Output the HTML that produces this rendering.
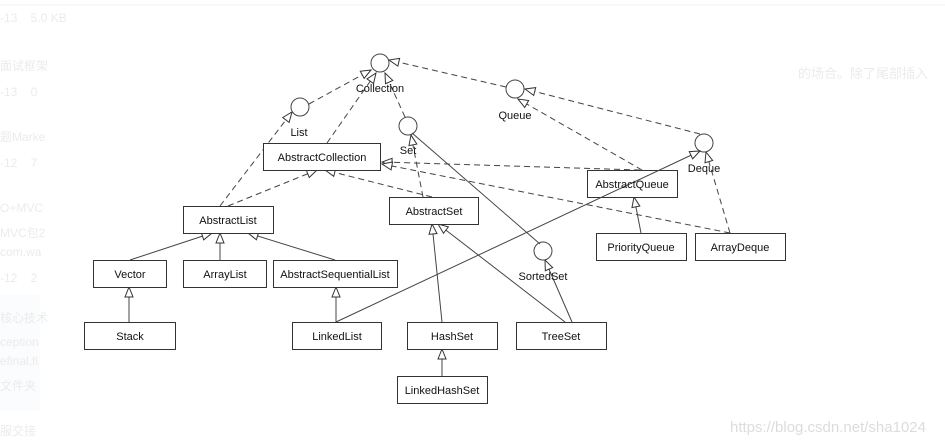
<!DOCTYPE html>
<html><head><meta charset="utf-8"><style>
html,body{margin:0;padding:0;background:#fff;}
body{width:945px;height:446px;overflow:hidden;position:relative;font-family:"Liberation Sans","Noto Sans CJK SC",sans-serif;}
svg{position:absolute;left:0;top:0;}
.bg{font-size:12px;fill:#ebebeb;}
</style></head><body>
<svg width="945" height="446" viewBox="0 0 945 446">
<defs>
<marker id="t" viewBox="0 0 12 10" refX="11" refY="5" markerWidth="12" markerHeight="10" markerUnits="userSpaceOnUse" orient="auto">
<path d="M1,1 L11,5 L1,9 Z" fill="#fff" stroke="#333" stroke-width="1"/>
</marker>
</defs>
<rect x="0" y="295" width="40" height="115" fill="#fbfcfd"/>
<g class="bg">
<text x="0" y="22">-13 &#160;&#160;&#160;5.0 KB</text>
<text x="0" y="70">面试框架</text>
<text x="0" y="96">-13 &#160;&#160;&#160;0</text>
<text x="0" y="141">题Marke</text>
<text x="0" y="167">-12 &#160;&#160;&#160;7</text>
<text x="0" y="212">O+MVC</text>
<text x="0" y="237">MVC包2</text>
<text x="0" y="256">com.wa</text>
<text x="0" y="282">-12 &#160;&#160;&#160;2</text>
<text x="0" y="322">核心技术</text>
<text x="0" y="346">ception</text>
<text x="0" y="365">efinal,fi</text>
<text x="0" y="390">文件夹</text>
<text x="0" y="435">服交接</text>
<text x="798" y="78" font-size="13">的场合。除了尾部插入</text>
<text x="730" y="432" font-size="15" fill="#dcdcdc">https://blog.csdn.net/sha1024</text>
</g>
<line x1="0" y1="5" x2="945" y2="5" stroke="#f3f3f3"/>
<g stroke="#444" stroke-width="1" fill="none">
<g stroke-dasharray="6,4">
<line x1="327" y1="143" x2="376" y2="73" marker-end="url(#t)"/>
<line x1="309" y1="104" x2="371" y2="70" marker-end="url(#t)"/>
<line x1="220" y1="206" x2="292" y2="112" marker-end="url(#t)"/>
<line x1="228" y1="206" x2="317" y2="170" marker-end="url(#t)"/>
<line x1="432" y1="197" x2="325" y2="170" marker-end="url(#t)"/>
<line x1="423" y1="197" x2="411" y2="135" marker-end="url(#t)"/>
<line x1="405" y1="117" x2="385" y2="73" marker-end="url(#t)"/>
<line x1="506" y1="87" x2="389" y2="60" marker-end="url(#t)"/>
<line x1="700" y1="134" x2="525" y2="89" marker-end="url(#t)"/>
<line x1="642" y1="170" x2="518" y2="99" marker-end="url(#t)"/>
<line x1="640" y1="170" x2="382" y2="162" marker-end="url(#t)"/>
<line x1="730" y1="233" x2="382" y2="164" marker-end="url(#t)"/>
<line x1="730" y1="233" x2="706" y2="152" marker-end="url(#t)"/>
</g>
<line x1="130" y1="260" x2="212" y2="233" marker-end="url(#t)"/>
<line x1="220" y1="260" x2="220" y2="233" marker-end="url(#t)"/>
<line x1="335" y1="260" x2="248" y2="233" marker-end="url(#t)"/>
<line x1="129" y1="322" x2="129" y2="287" marker-end="url(#t)"/>
<line x1="336" y1="322" x2="336" y2="287" marker-end="url(#t)"/>
<line x1="442" y1="322" x2="432" y2="224" marker-end="url(#t)"/>
<line x1="565" y1="322" x2="438" y2="224" marker-end="url(#t)"/>
<line x1="572" y1="322" x2="545" y2="260" marker-end="url(#t)"/>
<line x1="641" y1="233" x2="634" y2="197" marker-end="url(#t)"/>
<line x1="442" y1="376" x2="442" y2="349" marker-end="url(#t)"/>
</g>
<g stroke="#444" fill="#fff" stroke-width="1">
<circle cx="380" cy="63" r="9"/>
<circle cx="300" cy="107" r="9"/>
<circle cx="408" cy="126" r="9"/>
<circle cx="515" cy="89" r="9"/>
<circle cx="704" cy="143" r="9"/>
<circle cx="543" cy="251" r="9"/>
</g>
<g stroke="#333" fill="#fff" stroke-width="1">
<rect x="263.5" y="143.5" width="117" height="27"/>
<rect x="183.5" y="206.5" width="90" height="27"/>
<rect x="389.5" y="197.5" width="89" height="27"/>
<rect x="587.5" y="170.5" width="90" height="27"/>
<rect x="596.5" y="233.5" width="90" height="27"/>
<rect x="695.5" y="233.5" width="90" height="27"/>
<rect x="93.5" y="260.5" width="73" height="27"/>
<rect x="183.5" y="260.5" width="83" height="27"/>
<rect x="273.5" y="260.5" width="124" height="27"/>
<rect x="84.5" y="322.5" width="91" height="27"/>
<rect x="292.5" y="322.5" width="89" height="27"/>
<rect x="407.5" y="322.5" width="90" height="27"/>
<rect x="516.5" y="322.5" width="90" height="27"/>
<rect x="397.5" y="376.5" width="90" height="27"/>
</g>
<g stroke="#444" stroke-width="1" fill="none">
<line x1="336" y1="322" x2="700" y2="151" marker-end="url(#t)"/>
<line x1="412" y1="133" x2="540" y2="244"/>
</g>
<g font-size="11" fill="#111" text-anchor="middle">
<text x="380" y="92">Collection</text>
<text x="299" y="136">List</text>
<text x="408" y="154">Set</text>
<text x="515" y="119">Queue</text>
<text x="704" y="172">Deque</text>
<text x="543" y="280">SortedSet</text>
<text x="322" y="161">AbstractCollection</text>
<text x="228" y="224">AbstractList</text>
<text x="434" y="215">AbstractSet</text>
<text x="632" y="188">AbstractQueue</text>
<text x="641" y="251">PriorityQueue</text>
<text x="740" y="251">ArrayDeque</text>
<text x="130" y="278">Vector</text>
<text x="225" y="278">ArrayList</text>
<text x="335" y="278">AbstractSequentialList</text>
<text x="130" y="340">Stack</text>
<text x="337" y="340">LinkedList</text>
<text x="452" y="340">HashSet</text>
<text x="561" y="340">TreeSet</text>
<text x="442" y="394">LinkedHashSet</text>
</g>
</svg>
</body></html>
